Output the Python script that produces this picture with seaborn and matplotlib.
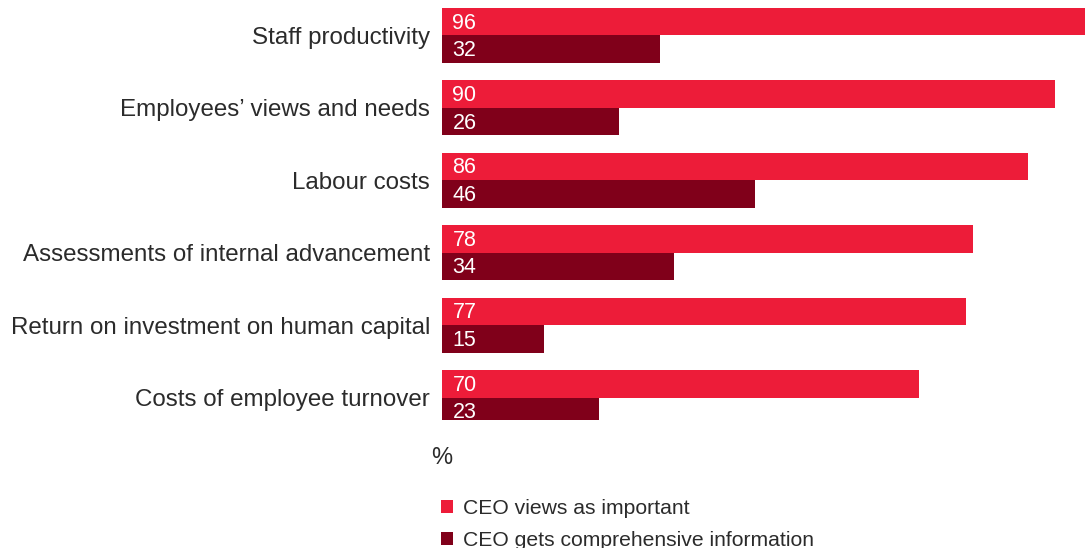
import pandas as pd
import seaborn as sns
import matplotlib.pyplot as plt
from matplotlib.patches import Patch

categories = ['Staff productivity', 'Employees\u2019 views and needs', 'Labour costs',
              'Assessments of internal advancement', 'Return on investment on human capital',
              'Costs of employee turnover']
important = [96, 90, 86, 78, 77, 70]
comprehensive = [32, 26, 46, 34, 15, 23]
series = ['CEO views as important', 'CEO gets comprehensive information']
colors = ['#ED1C39', '#80001A']

df = pd.DataFrame({
    'category': categories * 2,
    'value': important + comprehensive,
    'series': [series[0]] * len(categories) + [series[1]] * len(categories),
})

sns.set_style('white')
plt.rcParams['font.family'] = ['Liberation Sans', 'DejaVu Sans']

fig = plt.figure(figsize=(10.85, 5.48), dpi=100)
ax = fig.add_axes([442 / 1085, 1 - 420 / 548, 643 / 1085, 420 / 548])

sns.barplot(data=df, y='category', x='value', hue='series', palette=colors,
            order=categories, hue_order=series, width=0.76, orient='h',
            legend=False, ax=ax, saturation=1, linewidth=0)

for container in ax.containers:
    for bar, val in zip(container, container.datavalues):
        ax.annotate(f'{val:.0f}', xy=(bar.get_x(), bar.get_y() + bar.get_height() / 2),
                    xytext=(7.5, -1), textcoords='offset points', ha='left', va='center',
                    color='white', fontsize=15.5)

ax.set_xlim(0, 94.4)
ax.set_ylim(5.31, -0.49)
ax.set_xlabel('')
ax.set_ylabel('')
ax.set_xticks([])
ax.tick_params(axis='y', length=0, pad=8.5, labelsize=17.4, labelcolor='#2b2b2b')
sns.despine(ax=ax, left=True, bottom=True)

fig.text(431 / 1085, 1 - 458 / 548, '%', fontsize=17, color='#2b2b2b', ha='left', va='center')

handles = [Patch(facecolor=c, edgecolor='none') for c in colors]
fig.legend(handles, series, loc='upper left', bbox_to_anchor=(437 / 1085, 1 - 495 / 548),
           frameon=False, fontsize=15.2, handlelength=0.55, handleheight=0.55,
           handletextpad=0.5, labelspacing=0.6, labelcolor='#2b2b2b', borderaxespad=0,
           borderpad=0.2)

fig.savefig('out.png', dpi=100)
